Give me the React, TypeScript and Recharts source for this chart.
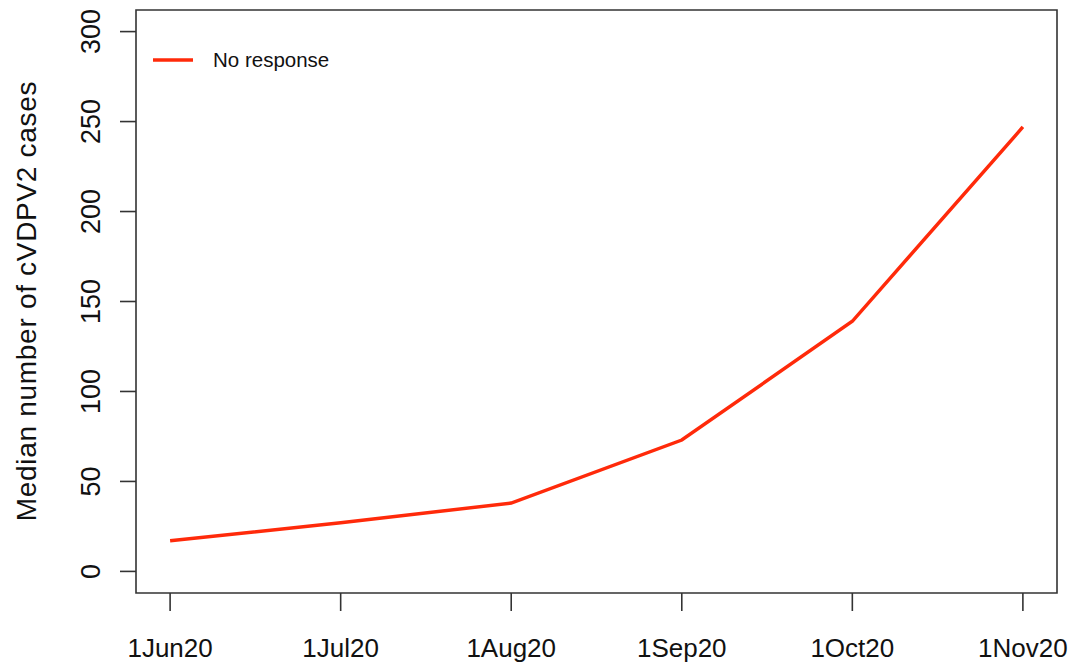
import { LineChart, Line, XAxis, YAxis, ReferenceArea } from 'recharts';

const months = ['1Jun20', '1Jul20', '1Aug20', '1Sep20', '1Oct20', '1Nov20'];
const noResponse = [17, 27, 38, 73, 139, 247];
const yTicks = [0, 50, 100, 150, 200, 250, 300];

const data = months.map((m, i) => ({ idx: i, month: m, noResponse: noResponse[i] }));

const FONT = '"Liberation Sans", Arial, Helvetica, sans-serif';
const AXIS = '#333';
const RED = '#ff2a0a';

const YTick = (props: any) => {
  const { y, payload } = props;
  const bx = 100;
  return (
    <g>
      <line x1={120} x2={136} y1={y} y2={y} stroke={AXIS} strokeWidth={1.6} />
      <text
        x={bx}
        y={y}
        transform={`rotate(-90, ${bx}, ${y})`}
        textAnchor="middle"
        fontSize={27}
        fontFamily={FONT}
        fill="#111"
      >
        {payload.value}
      </text>
    </g>
  );
};

const XTick = (props: any) => {
  const { x, payload } = props;
  return (
    <g>
      <line x1={x} x2={x} y1={593} y2={611} stroke={AXIS} strokeWidth={1.6} />
      <text x={x} y={657} textAnchor="middle" fontSize={26} fontFamily={FONT} fill="#111">
        {months[payload.value]}
      </text>
    </g>
  );
};

export default function App() {
  return (
    <div style={{ position: 'absolute', left: 0, top: 0, width: 1071, height: 664, background: '#fff' }}>
      <LineChart width={1071} height={664} data={data} margin={{ top: 10, right: 14, bottom: 0, left: 0 }}>
        <XAxis
          dataKey="idx"
          type="number"
          domain={[-0.2, 5.2]}
          ticks={[0, 1, 2, 3, 4, 5]}
          axisLine={false}
          tickLine={false}
          tick={<XTick />}
          height={71}
          interval={0}
        />
        <YAxis
          type="number"
          domain={[-12, 312]}
          ticks={yTicks}
          axisLine={false}
          tickLine={false}
          tick={<YTick />}
          width={136}
          interval={0}
          allowDataOverflow
        />
        <ReferenceArea
          x1={-0.2}
          x2={5.2}
          y1={-12}
          y2={312}
          fill="none"
          fillOpacity={0}
          stroke={AXIS}
          strokeWidth={1.6}
          ifOverflow="visible"
        />
        <Line
          type="linear"
          dataKey="noResponse"
          stroke={RED}
          strokeWidth={3.5}
          dot={false}
          isAnimationActive={false}
        />
        <line x1={153} x2={193} y1={60} y2={60} stroke={RED} strokeWidth={3.5} />
        <text x={213} y={67} fontSize={20.5} fontFamily={FONT} fill="#111">
          No response
        </text>
        <text
          x={36}
          y={301}
          transform="rotate(-90, 36, 301)"
          textAnchor="middle"
          fontSize={28}
          fontFamily={FONT}
          letterSpacing={0.7}
          fill="#111"
        >
          Median number of cVDPV2 cases
        </text>
      </LineChart>
    </div>
  );
}
